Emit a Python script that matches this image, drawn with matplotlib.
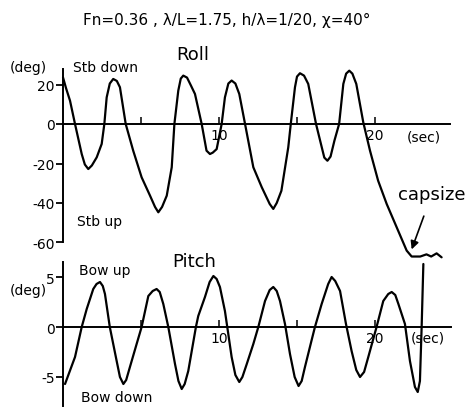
import numpy as np
import matplotlib
matplotlib.use("Agg")
import matplotlib.pyplot as plt

# roll record (time in sec, angle in deg)
roll_t = [0.0, 0.2, 0.45, 0.77, 1.2, 1.4, 1.62, 1.85, 2.16, 2.48, 2.65, 2.8,
          3.0, 3.22, 3.45, 3.65, 4.02, 4.5, 5.04, 5.58, 5.9, 6.11, 6.35,
          6.65, 6.97, 7.14, 7.39, 7.55, 7.71, 7.95, 8.2, 8.46, 8.89, 9.2,
          9.42, 9.6, 9.85, 10.17, 10.38, 10.6, 10.81, 11.05, 11.3, 11.67,
          12.2, 12.74, 13.25, 13.48, 13.7, 14.0, 14.44, 14.6, 14.87, 15.0,
          15.19, 15.45, 15.72, 16.22, 16.75, 16.95, 17.15, 17.4, 17.7, 17.97,
          18.15, 18.35, 18.55, 18.8, 19.25, 19.68, 20.2, 20.75, 21.39, 22.03,
          22.35, 22.9, 23.3, 23.6, 23.95, 24.27]
roll_deg = [23.6, 18.0, 11.8, 0.0, -15.2, -20.5, -22.8, -21.0, -16.9, -10.1,
            0.0, 13.5, 20.5, 22.8, 21.8, 18.6, 0.0, -13.5, -27.0, -36.3,
            -42.0, -44.7, -42.0, -36.3, -21.9, 0.0, 16.9, 23.0, 24.5, 23.5,
            19.5, 15.2, 0.0, -13.5, -15.2, -14.5, -12.7, 0.0, 13.5, 20.5,
            22.0, 20.5, 15.2, 0.0, -21.9, -32.0, -40.5, -43.0, -40.0, -33.8,
            -11.8, 0.0, 18.6, 24.0, 25.7, 24.5, 20.3, 0.0, -17.0, -18.6,
            -16.5, -8.4, 0.0, 20.3, 25.5, 27.0, 25.5, 20.3, 0.8, -13.5,
            -28.7, -40.5, -52.3, -64.1, -67.1, -67.1, -66.0, -67.1, -65.5,
            -67.5]

# pitch record (time in sec, angle in deg)
pitch_t = [0.13, 0.77, 1.2, 1.52, 1.94, 2.15, 2.37, 2.55, 2.69, 3.0, 3.44,
           3.65, 3.87, 4.05, 4.29, 4.72, 5.04, 5.47, 5.75, 6.0, 6.2, 6.43,
           6.75, 7.18, 7.4, 7.61, 7.8, 8.03, 8.52, 8.67, 9.1, 9.4, 9.64,
           9.85, 10.06, 10.38, 10.53, 10.81, 11.05, 11.3, 11.5, 11.78, 12.2,
           12.52, 12.95, 13.25, 13.48, 13.7, 13.91, 14.23, 14.55, 14.85,
           15.1, 15.3, 15.51, 15.94, 16.15, 16.58, 17.0, 17.22, 17.45, 17.76,
           18.14, 18.5, 18.8, 19.04, 19.3, 19.57, 20.1, 20.53, 20.85, 21.07,
           21.3, 21.5, 21.92, 22.24, 22.56, 22.74, 22.88, 22.99, 23.1]
pitch_deg = [-5.7, -3.0, 0.0, 1.8, 3.8, 4.3, 4.5, 4.1, 3.3, 0.0, -3.4, -5.0,
             -5.7, -5.3, -4.0, -1.7, 0.0, 3.1, 3.6, 3.8, 3.5, 2.3, 0.0, -3.7,
             -5.4, -6.2, -5.7, -4.4, 0.0, 1.1, 3.0, 4.5, 5.1, 4.8, 4.0, 1.6,
             0.0, -3.0, -4.8, -5.5, -5.0, -3.7, -1.7, 0.0, 2.6, 3.7, 4.0,
             3.6, 2.6, 0.3, -2.7, -5.0, -5.9, -5.4, -4.0, -1.3, 0.0, 2.3,
             4.3, 5.0, 4.6, 3.6, 0.3, -2.4, -4.3, -5.0, -4.5, -3.0, 0.0,
             2.6, 3.3, 3.5, 3.2, 2.3, 0.3, -3.4, -6.0, -6.5, -5.4, 0.0, 6.3]

title = "Fn=0.36 , λ/L=1.75, h/λ=1/20, χ=40°"

W, H = 472, 410
plt.rcParams['font.family'] = ['DejaVu Sans']
plt.rcParams['axes.unicode_minus'] = False
fig = plt.figure(figsize=(W / 100, H / 100), dpi=100)

def box(top, bottom):
    return [0, 1 - bottom / H, 1, (bottom - top) / H]

def style(ax, ybounds, xend, yticks):
    for s in ['top', 'right']:
        ax.spines[s].set_visible(False)
    ax.spines['left'].set_position(('data', 0))
    ax.spines['bottom'].set_position(('data', 0))
    ax.spines['left'].set_bounds(*ybounds)
    ax.spines['bottom'].set_bounds(0, xend)
    for s in ['left', 'bottom']:
        ax.spines[s].set_linewidth(1.4)
    ax.set_yticks(yticks)
    ax.set_xticks([10, 20])
    ax.set_xticks([5, 15], minor=True)
    ax.tick_params(axis='y', direction='out', length=5, width=1.3,
                   labelsize=10, pad=1)
    ax.tick_params(axis='x', which='both', direction='in', length=5,
                   width=1.1, labelsize=10, pad=3)
    ax.patch.set_alpha(0)

# px -> data: t = (px - 63) / 15.6
xl = (-63 / 15.6, (W - 63) / 15.6)
line_kw = dict(color='black', lw=1.6, clip_on=False,
               solid_joinstyle='round', solid_capstyle='round')

ax1 = fig.add_axes(box(60, 262))
ax1.set_xlim(*xl)
ax1.set_ylim((125 - 262) / 1.975, (125 - 60) / 1.975)
ax1.plot(roll_t, roll_deg, **line_kw)
style(ax1, (-60, 27.8), 24.8, [-60, -40, -20, 0, 20])
ax1.text(-2.2, 29, "(deg)", fontsize=10, ha='center', va='center')
ax1.text(2.75, 29, "Stb down", fontsize=10, ha='center', va='center')
ax1.text(2.35, -49, "Stb up", fontsize=10, ha='center', va='center')
ax1.text(23.1, -6.2, "(sec)", fontsize=10, ha='center', va='center')
ax1.text(8.3, 35.4, "Roll", fontsize=13, ha='center', va='center')
ax1.annotate("capsize", xy=(22.35, -63.5), xytext=(23.65, -35.4),
             fontsize=13, ha='center', va='center',
             arrowprops=dict(arrowstyle='-|>', color='black', lw=1.2,
                             mutation_scale=12, shrinkA=8, shrinkB=0))

ax2 = fig.add_axes(box(250, 410))
ax2.set_xlim(*xl)
ax2.set_ylim((328 - 410) / 10, (328 - 250) / 10)
ax2.plot(pitch_t, pitch_deg, **line_kw)
style(ax2, (-7.9, 6.5), 24.9, [-5, 0, 5])
ax2.text(-2.25, 3.7, "(deg)", fontsize=10, ha='center', va='center')
ax2.text(2.65, 5.7, "Bow up", fontsize=10, ha='center', va='center')
ax2.text(3.45, -7.0, "Bow down", fontsize=10, ha='center', va='center')
ax2.text(23.4, -1.1, "(sec)", fontsize=10, ha='center', va='center')
ax2.text(8.4, 6.6, "Pitch", fontsize=13, ha='center', va='center')

fig.text(227 / W, 1 - 20 / H, title, fontsize=11, ha='center', va='center')

fig.savefig("out.png", dpi=100)
